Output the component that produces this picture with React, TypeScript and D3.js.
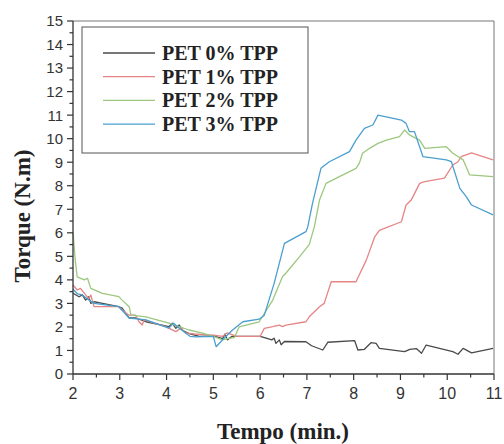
import React from "react";
import * as d3 from "d3";

const seriesNames = ["PET 0% TPP", "PET 1% TPP", "PET 2% TPP", "PET 3% TPP"];
const seriesColors = ["#4a4a4a", "#e58585", "#9cc77e", "#4a9fd0"];

const time0 = [2.0,2.13,2.2,2.27,2.34,2.38,2.45,2.63,2.98,3.05,3.2,3.34,3.56,4.05,4.12,4.2,4.27,4.35,4.5,4.7,5.0,5.2,5.25,5.3,5.4,5.5,6.0,6.13,6.25,6.3,6.34,6.41,6.45,6.52,6.98,7.1,7.34,7.45,8.02,8.09,8.23,8.37,8.48,8.55,9.09,9.2,9.34,9.45,9.55,10.12,10.23,10.34,10.52,10.98];
const torque0 = [3.43,3.28,3.36,3.14,3.28,3.0,3.07,3.0,2.86,2.8,2.38,2.38,2.22,2.01,2.16,1.94,2.08,1.85,1.7,1.6,1.62,1.5,1.7,1.45,1.6,1.6,1.6,1.52,1.45,1.52,1.3,1.45,1.24,1.38,1.37,1.2,1.02,1.35,1.42,1.02,1.05,1.33,1.3,1.09,0.95,1.05,1.08,0.88,1.23,0.95,0.84,1.09,0.9,1.09];

const time1 = [2.0,2.09,2.16,2.27,2.34,2.38,2.45,2.98,3.05,3.2,3.34,3.41,3.48,3.52,3.98,4.2,4.3,4.4,4.6,5.0,5.2,5.3,5.5,6.0,6.09,6.27,6.41,6.48,6.55,6.98,7.05,7.27,7.37,7.52,8.05,8.27,8.45,8.55,9.02,9.12,9.23,9.41,9.52,9.94,10.12,10.23,10.3,10.52,10.98];
const torque1 = [3.78,3.57,3.64,3.36,3.2,3.36,2.86,2.86,2.72,2.5,2.5,2.22,2.08,2.3,2.01,1.8,1.95,1.75,1.7,1.65,1.6,1.75,1.6,1.6,1.94,2.01,2.08,2.01,2.08,2.22,2.43,2.86,3.0,3.92,3.92,4.84,5.83,6.1,6.47,7.18,7.39,8.1,8.17,8.32,8.88,9.02,9.24,9.4,9.1];

const time2 = [2.0,2.05,2.09,2.24,2.31,2.38,2.63,2.98,3.05,3.2,3.24,3.56,4.05,4.48,4.77,5.0,5.2,5.3,5.45,5.55,5.98,6.27,6.48,6.55,6.84,7.05,7.16,7.27,7.41,7.63,7.91,8.05,8.12,8.19,8.34,8.52,8.7,8.98,9.09,9.19,9.41,9.52,9.98,10.12,10.23,10.34,10.48,10.98];
const torque2 = [6.0,4.8,4.13,4.0,4.07,3.64,3.43,3.29,3.14,2.86,2.5,2.43,2.16,1.87,1.74,1.6,1.45,1.5,1.55,2.0,2.22,3.14,4.14,4.28,4.98,5.5,6.26,7.39,8.1,8.32,8.6,8.74,8.95,9.38,9.59,9.8,9.94,10.09,10.37,10.16,9.94,9.59,9.66,9.38,9.24,9.1,8.46,8.39];

const time3 = [2.0,2.1,2.2,2.34,2.45,2.98,3.2,3.56,4.05,4.15,4.3,4.5,4.63,5.0,5.06,5.23,5.41,5.63,5.98,6.09,6.3,6.52,6.98,7.02,7.12,7.3,7.48,7.91,8.05,8.23,8.41,8.52,9.02,9.12,9.19,9.3,9.48,9.98,10.09,10.27,10.41,10.52,10.98];
const torque3 = [3.6,3.4,3.36,3.14,3.0,2.86,2.38,2.3,1.95,2.16,1.9,1.6,1.58,1.6,1.16,1.52,1.87,2.22,2.33,2.5,3.85,5.55,6.05,6.26,7.25,8.74,9.02,9.45,9.94,10.44,10.58,11.0,10.79,10.65,10.3,10.3,9.24,9.1,9.02,7.89,7.53,7.18,6.76];

const xTicks = [2, 3, 4, 5, 6, 7, 8, 9, 10, 11];
const yTicks = [0, 1, 2, 3, 4, 5, 6, 7, 8, 9, 10, 11, 12, 13, 14, 15];

const W = 504;
const H = 444;
const left = 73;
const right = 494;
const top = 21;
const bottom = 374;

export default function App() {
  const x = d3.scaleLinear().domain([2, 11]).range([left, right]);
  const y = d3.scaleLinear().domain([0, 15]).range([bottom, top]);
  const line = d3
    .line<[number, number]>()
    .x((d) => x(d[0]))
    .y((d) => y(d[1]));

  const series = [
    [time0, torque0],
    [time1, torque1],
    [time2, torque2],
    [time3, torque3],
  ].map(([t, v]) => t.map((tt, i) => [tt, v[i]] as [number, number]));

  const xMinor = d3.range(2, 11.01, 0.5);
  const yMinor = d3.range(0, 15.01, 0.5);
  const serif = "'Liberation Serif', 'Times New Roman', serif";
  const sans = "'Liberation Sans', Arial, sans-serif";

  return (
    <svg
      width={W}
      height={H}
      style={{ position: "absolute", left: 0, top: 0, background: "#fff" }}
    >
      <rect x={0} y={0} width={W} height={H} fill="#fff" />
      {/* frame */}
      <line x1={left} x2={right} y1={top} y2={top} stroke="#777" strokeWidth={1} />
      <line x1={right} x2={right} y1={top} y2={bottom} stroke="#777" strokeWidth={1} />
      {/* lines */}
      {series.map((s, i) => (
        <path
          key={i}
          d={line(s) || ""}
          fill="none"
          stroke={seriesColors[i]}
          strokeWidth={1.3}
          strokeLinejoin="round"
        />
      ))}
      {/* axes */}
      <line x1={left} x2={right} y1={bottom} y2={bottom} stroke="#333" strokeWidth={1.3} />
      <line x1={left} x2={left} y1={top} y2={bottom} stroke="#333" strokeWidth={1.3} />
      {xMinor.map((v) => (
        <line
          key={"xm" + v}
          x1={x(v)}
          x2={x(v)}
          y1={bottom}
          y2={bottom + (Number.isInteger(v) ? 6 : 3.5)}
          stroke="#333"
          strokeWidth={1.2}
        />
      ))}
      {yMinor.map((v) => (
        <line
          key={"ym" + v}
          x1={left}
          x2={left - (Number.isInteger(v) ? 6 : 3.5)}
          y1={y(v)}
          y2={y(v)}
          stroke="#333"
          strokeWidth={1.2}
        />
      ))}
      {xTicks.map((v) => (
        <text
          key={"xt" + v}
          x={x(v)}
          y={bottom + 25}
          textAnchor="middle"
          fontFamily={sans}
          fontSize={16}
          fill="#333"
        >
          {v}
        </text>
      ))}
      {yTicks.map((v) => (
        <text
          key={"yt" + v}
          x={left - 10}
          y={y(v)}
          dy="0.36em"
          textAnchor="end"
          fontFamily={sans}
          fontSize={15}
          fill="#333"
        >
          {v}
        </text>
      ))}
      {/* axis titles */}
      <text
        x={283}
        y={439}
        textAnchor="middle"
        fontFamily={serif}
        fontWeight="bold"
        fontSize={23}
        fill="#222"
      >
        Tempo (min.)
      </text>
      <text
        transform={`translate(30, 216) rotate(-90)`}
        textAnchor="middle"
        fontFamily={serif}
        fontWeight="bold"
        fontSize={23}
        fill="#222"
      >
        Torque (N.m)
      </text>
      {/* legend */}
      <rect x={82} y={27} width={226} height={126} fill="#fff" stroke="#555" strokeWidth={1} />
      {seriesNames.map((n, i) => {
        const ly = 53 + i * 23.7;
        return (
          <g key={n}>
            <line x1={103} x2={155} y1={ly} y2={ly} stroke={seriesColors[i]} strokeWidth={1.3} />
            <text
              x={162}
              y={ly}
              dy="0.34em"
              fontFamily={serif}
              fontWeight="bold"
              fontSize={20}
              fill="#222"
            >
              {n}
            </text>
          </g>
        );
      })}
    </svg>
  );
}
